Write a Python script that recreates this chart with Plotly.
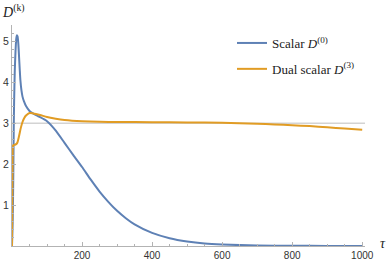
import plotly.graph_objects as go

# Data
tau_scalar = [0, 2, 3, 4, 5, 6, 8, 10, 12, 14, 16, 18, 20, 22, 24, 27, 30, 34, 40, 50, 60, 75,
              100, 125, 150, 175, 200, 225, 250, 275, 300, 325, 350, 400, 450, 500, 550, 600,
              700, 800, 900, 1000]
d_scalar = [0, 0.6, 1.2, 2.0, 2.9, 3.5, 4.3, 4.75, 5.05, 5.15, 5.12, 4.95, 4.65, 4.33, 4.05, 3.8,
            3.65, 3.54, 3.42, 3.3, 3.24, 3.17, 3.05, 2.82, 2.52, 2.22, 1.93, 1.62, 1.33, 1.08,
            0.86, 0.68, 0.53, 0.32, 0.19, 0.11, 0.06, 0.035, 0.012, 0.005, 0.003, 0.002]

tau_dual = [0, 1, 2, 3, 5, 10, 15, 20, 25, 30, 35, 40, 50, 60, 80, 100, 125, 150, 200, 250, 300,
            400, 500, 600, 700, 750, 800, 850, 900, 950, 1000]
d_dual = [0, 1.6, 2.35, 2.45, 2.47, 2.48, 2.52, 2.68, 2.88, 3.03, 3.13, 3.19, 3.25, 3.24, 3.2,
          3.15, 3.11, 3.08, 3.05, 3.035, 3.03, 3.025, 3.02, 3.01, 2.99, 2.97, 2.95, 2.93, 2.9,
          2.87, 2.84]

ref_level = 3
x_ticks = [200, 400, 600, 800, 1000]
y_ticks = [1, 2, 3, 4, 5]

BLUE = "#5E81B5"
ORANGE = "#E19C24"
AXIS = "#b3b3b3"

fig = go.Figure()
fig.add_trace(go.Scatter(x=tau_scalar, y=d_scalar, mode="lines",
                         line=dict(color=BLUE, width=2, shape="spline", smoothing=0.6),
                         name="Scalar <i>D</i><sup>(0)</sup>", legendgroup="a"))
fig.add_trace(go.Scatter(x=tau_dual, y=d_dual, mode="lines",
                         line=dict(color=ORANGE, width=2, shape="spline", smoothing=0.6),
                         name="Dual scalar <i>D</i><sup>(3)</sup>", legendgroup="b"))

fig.add_shape(type="line", xref="x", yref="y", x0=0, x1=1008, y0=ref_level, y1=ref_level,
              line=dict(color="#d3d3d3", width=1.5), layer="below")

L, R, T, B = 12, 22, 25, 14
W, H = 387, 260
pw, ph = W - L - R, H - T - B

fig.update_layout(
    width=W, height=H,
    margin=dict(l=L, r=R, t=T, b=B, pad=0, autoexpand=False),
    paper_bgcolor="white", plot_bgcolor="white",
    showlegend=True,
    legend=dict(x=(232 - L) / pw, y=(ph - (28 - T)) / ph, xanchor="left", yanchor="top",
                font=dict(family="Liberation Serif", size=13, color="#222"),
                bgcolor="rgba(0,0,0,0)", tracegroupgap=6, itemwidth=30),
    xaxis=dict(range=[0, 1008], showgrid=False, zeroline=False, showline=True, automargin=False,
               linecolor=AXIS, linewidth=1, ticks="inside", ticklen=4, tickcolor=AXIS,
               tickvals=x_ticks, tickfont=dict(family="Liberation Sans", size=10, color="#333"),
               minor=dict(dtick=50, ticks="inside", ticklen=2, tickcolor=AXIS)),
    yaxis=dict(range=[0, 5.4], showgrid=False, zeroline=False, showline=True, automargin=False,
               linecolor=AXIS, linewidth=1, ticks="inside", ticklen=4, tickcolor=AXIS,
               tickvals=y_ticks, tickfont=dict(family="Liberation Sans", size=10.5, color="#333"),
               minor=dict(dtick=0.2, ticks="inside", ticklen=2, tickcolor=AXIS)),
    annotations=[
        dict(text="<i>D</i><sup>(k)</sup>", xref="paper", yref="paper",
             x=(0 - L) / pw, y=(ph + T - 11) / ph, xanchor="left", yanchor="middle",
             showarrow=False, font=dict(family="Liberation Serif", size=14, color="#222")),
        dict(text="<i>τ</i>", xref="paper", yref="paper",
             x=(383 - L) / pw, y=(3) / ph, xanchor="center", yanchor="middle",
             showarrow=False, font=dict(family="Liberation Serif", size=14, color="#222")),
    ],
)

fig.write_html("out.html", post_script="document.body.style.margin='0';",
               config={"displayModeBar": False})
